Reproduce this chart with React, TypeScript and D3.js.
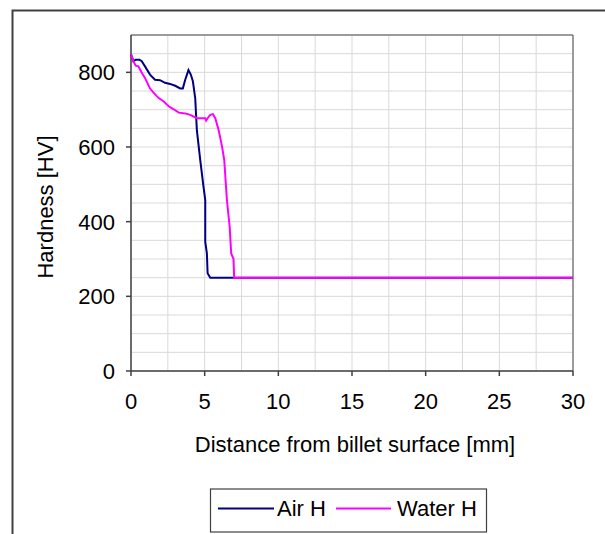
import React from "react";
import * as d3 from "d3";

const airX = [0, 0.16, 0.32, 0.57, 0.73, 0.95, 1.29, 1.63, 1.97, 2.31, 2.65, 3.0, 3.34, 3.52, 3.68, 3.9, 4.06, 4.2, 4.36, 4.47, 4.7, 4.92, 5.04, 5.04, 5.15, 5.2, 5.38, 7.0, 30];
const airY = [848, 830, 834, 834, 830, 816, 794, 780, 779, 772, 769, 764, 757, 757, 780, 806, 794, 776, 730, 645, 565, 494, 458, 346, 315, 262, 250, 250, 250];

const waterX = [0, 0.16, 0.32, 0.5, 0.73, 0.95, 1.27, 1.54, 1.88, 2.22, 2.56, 2.9, 3.24, 3.68, 4.02, 4.47, 5.04, 5.1, 5.2, 5.38, 5.56, 5.72, 5.95, 6.18, 6.33, 6.51, 6.7, 6.8, 6.96, 7.0, 30];
const waterY = [848, 830, 818, 816, 799, 785, 758, 745, 731, 722, 709, 701, 692, 690, 686, 677, 677, 671, 677, 686, 688, 677, 645, 601, 565, 458, 385, 315, 300, 250, 250];

const xTicks = [0, 5, 10, 15, 20, 25, 30];
const yTicks = [0, 200, 400, 600, 800];
const xMinor = d3.range(0, 30.01, 2.5);
const yMinor = d3.range(0, 900.1, 50);

const seriesNames = ["Air H", "Water H"];
const seriesColors = ["#000080", "#ff00ff"];

const FONT = "'Liberation Sans', Arial, sans-serif";
const FS = 22;

export default function App() {
  const x = d3.scaleLinear().domain([0, 30]).range([131, 573]);
  const y = d3.scaleLinear().domain([0, 900]).range([371, 35]);
  const line = d3
    .line<[number, number]>()
    .x((d) => x(d[0]))
    .y((d) => y(d[1]));
  const air: [number, number][] = airX.map((v, i) => [v, airY[i]]);
  const water: [number, number][] = waterX.map((v, i) => [v, waterY[i]]);

  return (
    <svg
      width={605}
      height={534}
      style={{ position: "absolute", left: 0, top: 0, background: "#fff" }}
      fontFamily={FONT}
    >
      <rect x={0} y={0} width={605} height={534} fill="#fff" />
      {/* outer chart frame */}
      <rect x={12.5} y={10.5} width={640} height={560} fill="none" stroke="#404040" strokeWidth={2} />
      {/* gridlines */}
      {yMinor.map((v) => (
        <line key={"gy" + v} x1={x(0)} x2={x(30)} y1={y(v)} y2={y(v)} stroke="#d9d9d9" strokeWidth={1} />
      ))}
      {xMinor.map((v) => (
        <line key={"gx" + v} x1={x(v)} x2={x(v)} y1={y(0)} y2={y(900)} stroke="#d9d9d9" strokeWidth={1} />
      ))}
      {/* top & right border */}
      <line x1={x(0)} x2={x(30)} y1={y(900)} y2={y(900)} stroke="#808080" strokeWidth={1.5} />
      <line x1={x(30)} x2={x(30)} y1={y(900)} y2={y(0)} stroke="#808080" strokeWidth={1.5} />
      {/* axes */}
      <line x1={x(0)} x2={x(0)} y1={y(900)} y2={y(0)} stroke="#404040" strokeWidth={1.5} />
      <line x1={x(0)} x2={x(30)} y1={y(0)} y2={y(0)} stroke="#404040" strokeWidth={1.5} />
      {yTicks.map((v) => (
        <g key={"ty" + v}>
          <line x1={x(0) - 5} x2={x(0)} y1={y(v)} y2={y(v)} stroke="#404040" strokeWidth={1.5} />
          <text x={115} y={y(v)} dy="0.36em" textAnchor="end" fontSize={FS} fill="#000">
            {v}
          </text>
        </g>
      ))}
      {xTicks.map((v) => (
        <g key={"tx" + v}>
          <line x1={x(v)} x2={x(v)} y1={y(0)} y2={y(0) + 5} stroke="#404040" strokeWidth={1.5} />
          <text x={x(v)} y={409} textAnchor="middle" fontSize={FS} fill="#000">
            {v}
          </text>
        </g>
      ))}
      <text x={355} y={452} textAnchor="middle" fontSize={FS} fill="#000">
        Distance from billet surface [mm]
      </text>
      <text
        transform={`translate(53,207) rotate(-90)`}
        textAnchor="middle"
        fontSize={FS}
        fill="#000"
      >
        Hardness [HV]
      </text>
      {/* data */}
      <path d={line(air) || ""} fill="none" stroke={seriesColors[0]} strokeWidth={2} />
      <path d={line(water) || ""} fill="none" stroke={seriesColors[1]} strokeWidth={2} />
      {/* legend */}
      <rect x={210.5} y={489} width={276} height={43} fill="#fff" stroke="#404040" strokeWidth={1.2} />
      <line x1={218} x2={274} y1={508.5} y2={508.5} stroke={seriesColors[0]} strokeWidth={2} />
      <text x={277} y={508.5} dy="0.36em" fontSize={FS} fill="#000">
        {seriesNames[0]}
      </text>
      <line x1={336} x2={391} y1={508.5} y2={508.5} stroke={seriesColors[1]} strokeWidth={2} />
      <text x={397} y={508.5} dy="0.36em" fontSize={FS} fill="#000">
        {seriesNames[1]}
      </text>
    </svg>
  );
}
